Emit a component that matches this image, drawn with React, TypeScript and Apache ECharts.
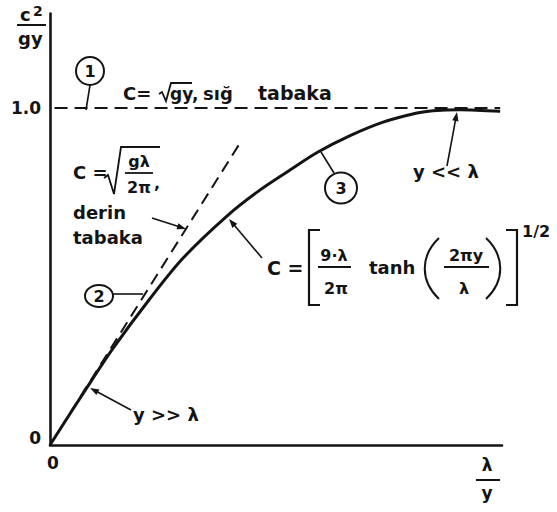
import React, { useEffect, useRef } from "react";
import * as echarts from "echarts";

// λ/y along the horizontal axis and c²/gy for the full dispersion curve
const curveX = [0, 0.82, 1.39, 2.21, 2.94, 3.92, 4.65, 5.31, 5.91, 6.64, 7.37, 8.12, 8.47, 9.07, 9.96];
const curveY = [0, 0.171, 0.286, 0.434, 0.554, 0.68, 0.757, 0.816, 0.868, 0.918, 0.958, 0.985, 0.992, 0.995, 0.99];

// deep-water asymptote (dashed, through the origin)
const deepX = [0, 4.25];
const deepY = [0, 0.906];

// shallow-water limit c²/gy = 1
const shallowX = [0.1, 9.96];
const shallowY = [1, 1];

// axis labels
const yTickValues = [0, 1];
const yTickLabels = ["0", "1.0"];
const xTickValues = [0];
const xTickLabels = ["0"];

const INK = "#141414";
const FONT = "'DejaVu Sans', sans-serif";

const zip = (xs: number[], ys: number[]) => xs.map((x, i) => [x, ys[i]]);

function txt(text: string, x: number, y: number, size = 18, align = "left") {
  return {
    type: "text",
    x,
    y,
    z: 100,
    style: {
      text,
      fontSize: size,
      fontFamily: FONT,
      fontWeight: "bold",
      fill: INK,
      align,
      verticalAlign: "middle",
      textAlign: align,
      textVerticalAlign: "middle",
    },
  };
}

function seg(x1: number, y1: number, x2: number, y2: number, w = 1.8) {
  return { type: "line", z: 100, shape: { x1, y1, x2, y2 }, style: { stroke: INK, lineWidth: w } };
}

function poly(points: number[][], w = 1.8) {
  return { type: "polyline", z: 100, shape: { points }, style: { stroke: INK, lineWidth: w, fill: null } };
}

function arrow(tail: number[], tip: number[], len = 9, half = 3.2) {
  const dx = tip[0] - tail[0];
  const dy = tip[1] - tail[1];
  const d = Math.hypot(dx, dy);
  const ux = dx / d;
  const uy = dy / d;
  const bx = tip[0] - ux * len;
  const by = tip[1] - uy * len;
  return [
    seg(tail[0], tail[1], bx + ux * 2, by + uy * 2, 1.6),
    {
      type: "polygon",
      z: 100,
      shape: {
        points: [
          [tip[0], tip[1]],
          [bx - uy * half, by + ux * half],
          [bx + uy * half, by - ux * half],
        ],
      },
      style: { fill: INK },
    },
  ];
}

function badge(cx: number, cy: number, rx: number, ry: number, label: string) {
  return [
    {
      type: "ellipse",
      z: 100,
      shape: { cx, cy, rx, ry },
      style: { stroke: INK, lineWidth: 2, fill: "#fff" },
    },
    txt(label, cx, cy + 0.5, 16, "center"),
  ];
}

function buildGraphics() {
  return [
    // vertical axis title c²/gy
    txt("c", 20, 14, 18),
    txt("2", 33, 11, 14),
    seg(17, 25, 46, 25, 2),
    txt("gy", 18, 38, 18),

    // horizontal axis title λ/y
    txt("λ", 487, 465, 17, "center"),
    seg(476, 480, 500, 480, 2),
    txt("y", 487, 493, 17, "center"),

    // (1) shallow-water line label
    ...badge(90, 71, 14, 14, "1"),
    seg(90, 85, 86, 110, 1.6),
    txt("C=", 123, 93, 18),
    poly([[159, 94], [162, 92], [166, 101], [171, 83], [192, 83]], 1.8),
    txt("gy,", 170, 94, 17),
    txt("sığ", 203, 93, 18),
    txt("tabaka", 258, 93, 19),

    // (2) deep-water asymptote label
    txt("C =", 73, 172, 18),
    poly([[104, 178], [108, 175], [114, 194], [121, 147], [160, 147]], 1.8),
    txt("gλ", 139, 161, 16, "center"),
    seg(125, 173, 153, 173, 1.8),
    txt("2π", 139, 187, 16, "center"),
    txt(",", 154, 183, 16),
    txt("derin", 73, 212, 18),
    txt("tabaka", 73, 237, 18),
    ...arrow([152, 218], [186, 229]),
    ...badge(99, 296, 14, 11, "2"),
    seg(113, 294, 143, 294, 1.6),

    // (3) general curve label
    ...badge(341, 188, 16, 15.5, "3"),
    seg(334, 173, 321, 152, 1.6),
    txt("C =", 267, 268, 19),
    ...arrow([262, 258], [229, 219]),
    poly([[320, 230], [309, 230], [309, 305], [320, 305]], 2.2),
    txt("9·λ", 334, 255, 16, "center"),
    seg(318, 267, 351, 267, 1.8),
    txt("2π", 336, 288, 16, "center"),
    txt("tanh", 369, 267, 18),
    {
      type: "bezierCurve",
      z: 100,
      shape: { x1: 439, y1: 238, x2: 439, y2: 299, cpx1: 420, cpy1: 256, cpx2: 420, cpy2: 281 },
      style: { stroke: INK, lineWidth: 2, fill: null },
    },
    txt("2πy", 466, 255, 16, "center"),
    seg(444, 267, 489, 267, 1.8),
    txt("λ", 464, 288, 16, "center"),
    {
      type: "bezierCurve",
      z: 100,
      shape: { x1: 486, y1: 238, x2: 486, y2: 299, cpx1: 505, cpy1: 256, cpx2: 505, cpy2: 281 },
      style: { stroke: INK, lineWidth: 2, fill: null },
    },
    poly([[506, 230], [517, 230], [517, 305], [506, 305]], 2.2),
    txt("1/2", 522, 231, 16),

    // limiting-case callouts
    txt("y << λ", 413, 171, 18),
    ...arrow([447, 166], [457, 112]),
    txt("y >> λ", 133, 414, 18),
    ...arrow([131, 410], [90, 388]),
  ];
}

export default function App() {
  const ref = useRef<HTMLDivElement>(null);

  useEffect(() => {
    if (!ref.current) return;
    const chart = echarts.init(ref.current, undefined, { renderer: "svg" });
    chart.setOption({
      animation: false,
      backgroundColor: "#fff",
      grid: { left: 50, right: 55, top: 13.6, bottom: 67, containLabel: false },
      xAxis: {
        type: "value",
        min: 0,
        max: 10,
        axisLine: { show: true, lineStyle: { color: INK, width: 2.6 } },
        axisTick: { show: false },
        splitLine: { show: false },
        axisLabel: {
          customValues: xTickValues,
          formatter: (v: number) => xTickLabels[xTickValues.indexOf(v)] ?? "",
          margin: 9,
          color: INK,
          fontFamily: FONT,
          fontWeight: "bold",
          fontSize: 17,
          padding: [0, 0, 0, 6],
        },
      },
      yAxis: {
        type: "value",
        min: 0,
        max: 1.28,
        axisLine: { show: true, lineStyle: { color: INK, width: 2.6 } },
        axisTick: { show: false },
        splitLine: { show: false },
        axisLabel: {
          customValues: yTickValues,
          formatter: (v: number) => {
            const s = yTickLabels[yTickValues.indexOf(v)] ?? "";
            return v === 0 ? `{lo|${s}}` : `{n|${s}}`;
          },
          margin: 9,
          color: INK,
          fontFamily: FONT,
          fontWeight: "bold",
          fontSize: 17,
          rich: {
            lo: { fontFamily: FONT, fontWeight: "bold", fontSize: 17, color: INK, padding: [0, 0, 14, 0] },
            n: { fontFamily: FONT, fontWeight: "bold", fontSize: 17, color: INK },
          },
        },
      },
      series: [
        {
          name: "sığ tabaka",
          type: "line",
          data: zip(shallowX, shallowY),
          symbol: "none",
          lineStyle: { color: INK, width: 2, type: [13, 7] },
          z: 3,
        },
        {
          name: "derin tabaka",
          type: "line",
          data: zip(deepX, deepY),
          symbol: "none",
          lineStyle: { color: INK, width: 2, type: [12, 7] },
          z: 3,
        },
        {
          name: "c²/gy",
          type: "line",
          data: zip(curveX, curveY),
          symbol: "none",
          smooth: 0.3,
          lineStyle: { color: INK, width: 3 },
          z: 4,
        },
      ],
      graphic: buildGraphics(),
    });
    return () => chart.dispose();
  }, []);

  return (
    <div
      ref={ref}
      style={{ position: "absolute", left: 0, top: 0, width: 557, height: 512, background: "#fff" }}
    />
  );
}
